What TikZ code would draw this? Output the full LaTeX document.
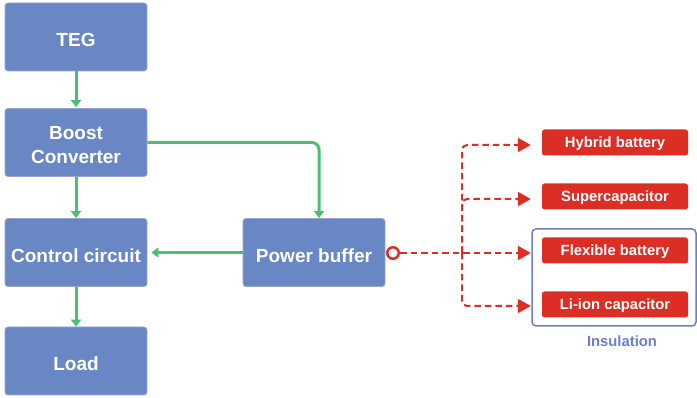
\documentclass[tikz,border=0pt]{standalone}
\usepackage{fontspec}
\setmainfont{Liberation Sans}
\usetikzlibrary{arrows.meta}
\definecolor{boxblue}{RGB}{106,135,197}
\definecolor{boxedge}{RGB}{150,165,205}
\definecolor{redfill}{RGB}{221,46,38}
\definecolor{arrowgreen}{RGB}{76,192,110}
\definecolor{insblue}{RGB}{108,126,200}
\begin{document}
\begin{tikzpicture}[x=1pt,y=-1pt,
 bluebox/.style={draw=boxedge, line width=0.8pt, fill=boxblue, rounded corners=3pt, minimum width=142pt, minimum height=68pt, inner sep=0pt},
 bluetext/.style={text=white, font=\fontsize{19}{24}\selectfont\bfseries, align=center, inner sep=0pt, yshift=-3pt},
 redbox/.style={fill=redfill, rounded corners=2.5pt, minimum width=146pt, minimum height=26pt, inner sep=0pt},
 redtext/.style={text=white, font=\fontsize{14.8}{17}\selectfont\bfseries, inner sep=0pt, yshift=-1.5pt},
 garrow/.style={draw=arrowgreen, line width=3pt, -{Triangle[length=7pt,width=10pt]}},
 rarrow/.style={draw=redfill, line width=2pt, dash pattern=on 6.5pt off 4pt, -{Triangle[length=13pt,width=14pt]}, rounded corners=5pt}
]
\useasboundingbox (0,0) rectangle (697,398);

\node[bluebox, label={[bluetext]center:TEG}] (teg) at (76,37) {};
\node[bluebox, label={[bluetext]center:{Boost\\Converter}}] (boost) at (76,142.5) {};
\node[bluebox, label={[bluetext]center:Control circuit}] (ctrl) at (76,252.5) {};
\node[bluebox, label={[bluetext]center:Load}] (load) at (76,361) {};
\node[bluebox, label={[bluetext]center:Power buffer}] (pb) at (314,252.5) {};

\draw[garrow, shorten >=1pt] (teg) -- (boost);
\draw[garrow] (boost) -- (ctrl);
\draw[garrow] (ctrl) -- (load);
\draw[garrow, rounded corners=7pt] (boost.east) -| ([xshift=5pt]pb.north);
\draw[garrow, shorten >=4pt] (pb) -- (ctrl);

\node[redbox, label={[redtext]center:Hybrid battery}] (hyb) at (615,142.5) {};
\node[redbox, label={[redtext]center:Supercapacitor}] (sup) at (615,196.5) {};
\node[redbox, label={[redtext]center:Flexible battery}] (flex) at (615,250.5) {};
\node[redbox, label={[redtext]center:Li-ion capacitor}] (li) at (615,304.5) {};

\node[draw=insblue, line width=1.5pt, rounded corners=4pt, minimum width=164pt, minimum height=97pt, inner sep=0pt] (ins) at (614,277.5) {};
\node[text=insblue, font=\fontsize{14.8}{17}\selectfont\bfseries] (inslabel) at (622,341) {Insulation};

\node[circle, draw=redfill, line width=2.5pt, fill=white, minimum size=11.5pt, inner sep=0pt] (c) at (393,253) {};
\coordinate (j) at (462,253);
\draw[rarrow] (c) -- ([xshift=-11pt,yshift=-2.5pt]flex.west);
\draw[rarrow] (j) |- ([xshift=-11pt,yshift=-2.5pt]hyb.west);
\draw[rarrow] (j) |- ([xshift=-11pt,yshift=-2.5pt]sup.west);
\draw[rarrow] (j) |- ([xshift=-11pt,yshift=-1.5pt]li.west);
\end{tikzpicture}
\end{document}
